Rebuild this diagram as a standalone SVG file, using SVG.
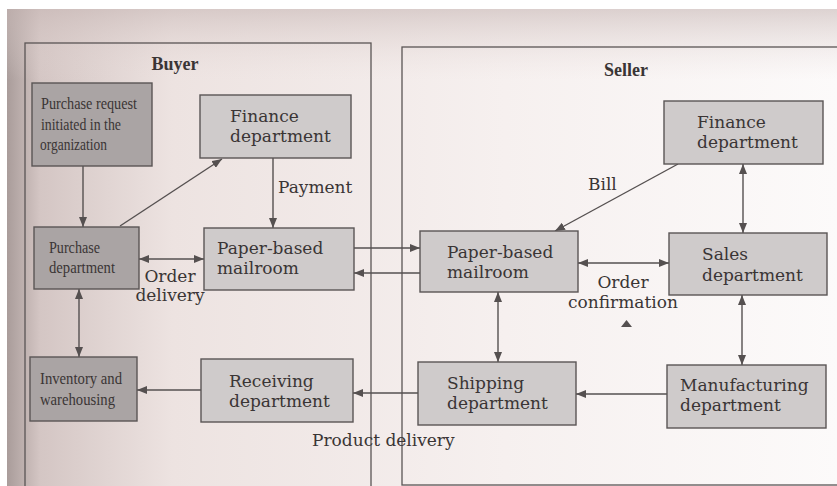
<svg xmlns="http://www.w3.org/2000/svg" width="837" height="486" viewBox="0 0 837 486">
<defs>
<linearGradient id="page" x1="0" y1="0" x2="1" y2="0">
<stop offset="0" stop-color="#a99c9a"/>
<stop offset="0.04" stop-color="#d4c6c4"/>
<stop offset="0.2" stop-color="#ede3e1"/>
<stop offset="0.6" stop-color="#f6f0ef"/>
<stop offset="1" stop-color="#fcfafa"/>
</linearGradient>
<linearGradient id="pageV" x1="0" y1="0" x2="0" y2="1">
<stop offset="0" stop-color="#c8b8b6" stop-opacity="0.6"/>
<stop offset="0.15" stop-color="#e8dcda" stop-opacity="0"/>
<stop offset="1" stop-color="#ffffff" stop-opacity="0"/>
</linearGradient>
<marker id="ah" viewBox="0 0 10 8" markerWidth="10" markerHeight="8" refX="10" refY="4" orient="auto-start-reverse" markerUnits="userSpaceOnUse">
<path d="M0,0 L10,4 L0,8 z" fill="#555050"/>
</marker>
</defs>
<style>
.panel{fill:none;stroke:#5a5555;stroke-width:1.3}
.dark{fill:#aaa4a4;stroke:#5a5555;stroke-width:1.4}
.light{fill:#cfcbcb;stroke:#5a5555;stroke-width:1.4}
.t{font-family:"DejaVu Serif","Liberation Serif",serif;font-size:17px;fill:#3a3535}
.s{font-family:"Liberation Serif","DejaVu Serif",serif;font-size:17px;fill:#3a3535}
.h{font-family:"Liberation Serif","DejaVu Serif",serif;font-size:18px;font-weight:bold;fill:#3a3535}
.c{fill:none;stroke:#555050;stroke-width:1.4}
.one{marker-end:url(#ah)}
.two{marker-start:url(#ah);marker-end:url(#ah)}
</style>
<rect x="0" y="0" width="837" height="486" fill="#ffffff"/>
<rect x="7" y="9" width="830" height="477" fill="url(#page)"/>
<rect x="7" y="9" width="830" height="477" fill="url(#pageV)"/>

<g id="buyer-panel">
<rect class="panel" x="25" y="43" width="346" height="455"/>
<text class="h" x="175" y="70" text-anchor="middle">Buyer</text>
</g>
<g id="seller-panel">
<rect class="panel" x="402" y="47" width="450" height="438"/>
<text class="h" x="626" y="76" text-anchor="middle">Seller</text>
</g>

<g id="connectors">
<line class="c one" x1="83" y1="166" x2="83" y2="227"/>
<line class="c one" x1="120" y1="226" x2="222" y2="159"/>
<line class="c one" x1="273" y1="158" x2="273" y2="228"/>
<line class="c two" x1="139" y1="259" x2="204" y2="259"/>
<line class="c two" x1="79" y1="289" x2="79" y2="357"/>
<line class="c one" x1="354" y1="248" x2="420" y2="248"/>
<line class="c one" x1="420" y1="273" x2="354" y2="273"/>
<line class="c one" x1="201" y1="390" x2="137" y2="390"/>
<line class="c one" x1="418" y1="393" x2="353" y2="393"/>
<line class="c one" x1="678" y1="164" x2="555" y2="231"/>
<line class="c two" x1="743" y1="164" x2="743" y2="233"/>
<line class="c two" x1="578" y1="263" x2="669" y2="263"/>
<line class="c two" x1="498" y1="292" x2="498" y2="362"/>
<line class="c two" x1="742" y1="295" x2="742" y2="365"/>
<line class="c one" x1="667" y1="394" x2="576" y2="394"/>
<text class="t" x="278" y="193">Payment</text>
<text class="t" x="170" y="282" text-anchor="middle">Order</text>
<text class="t" x="170" y="301" text-anchor="middle">delivery</text>
<text class="t" x="312" y="446">Product delivery</text>
<text class="t" x="588" y="190">Bill</text>
<text class="t" x="623" y="288" text-anchor="middle">Order</text>
<text class="t" x="623" y="308" text-anchor="middle">confirmation</text>
<polygon points="621,327 632,327 626.5,320" fill="#555050"/>
</g>

<g id="purchase-request">
<rect class="dark" x="32" y="83" width="120" height="83"/>
<text class="s" x="41" y="109" textLength="96" lengthAdjust="spacingAndGlyphs">Purchase request</text>
<text class="s" x="41" y="130" textLength="80" lengthAdjust="spacingAndGlyphs">initiated in the</text>
<text class="s" x="40" y="150" textLength="67" lengthAdjust="spacingAndGlyphs">organization</text>
</g>
<g id="buyer-finance">
<rect class="light" x="200" y="95" width="151" height="63"/>
<text class="t" x="230" y="122">Finance</text>
<text class="t" x="230" y="142">department</text>
</g>
<g id="purchase-department">
<rect class="dark" x="34" y="227" width="105" height="62"/>
<text class="s" x="49" y="253" textLength="51" lengthAdjust="spacingAndGlyphs">Purchase</text>
<text class="s" x="49" y="273" textLength="66" lengthAdjust="spacingAndGlyphs">department</text>
</g>
<g id="buyer-mailroom">
<rect class="light" x="204" y="228" width="150" height="62"/>
<text class="t" x="217" y="254">Paper-based</text>
<text class="t" x="217" y="274">mailroom</text>
</g>
<g id="inventory">
<rect class="dark" x="30" y="357" width="107" height="64"/>
<text class="s" x="40" y="384" textLength="82" lengthAdjust="spacingAndGlyphs">Inventory and</text>
<text class="s" x="40" y="405" textLength="75" lengthAdjust="spacingAndGlyphs">warehousing</text>
</g>
<g id="receiving">
<rect class="light" x="201" y="359" width="152" height="63"/>
<text class="t" x="229" y="387">Receiving</text>
<text class="t" x="229" y="407">department</text>
</g>
<g id="seller-finance">
<rect class="light" x="664" y="101" width="159" height="63"/>
<text class="t" x="697" y="128">Finance</text>
<text class="t" x="697" y="148">department</text>
</g>
<g id="seller-mailroom">
<rect class="light" x="420" y="231" width="158" height="61"/>
<text class="t" x="447" y="258">Paper-based</text>
<text class="t" x="447" y="278">mailroom</text>
</g>
<g id="sales">
<rect class="light" x="669" y="233" width="158" height="62"/>
<text class="t" x="702" y="260">Sales</text>
<text class="t" x="702" y="281">department</text>
</g>
<g id="shipping">
<rect class="light" x="418" y="362" width="158" height="63"/>
<text class="t" x="447" y="389">Shipping</text>
<text class="t" x="447" y="409">department</text>
</g>
<g id="manufacturing">
<rect class="light" x="667" y="365" width="159" height="63"/>
<text class="t" x="680" y="391">Manufacturing</text>
<text class="t" x="680" y="411">department</text>
</g>
</svg>
